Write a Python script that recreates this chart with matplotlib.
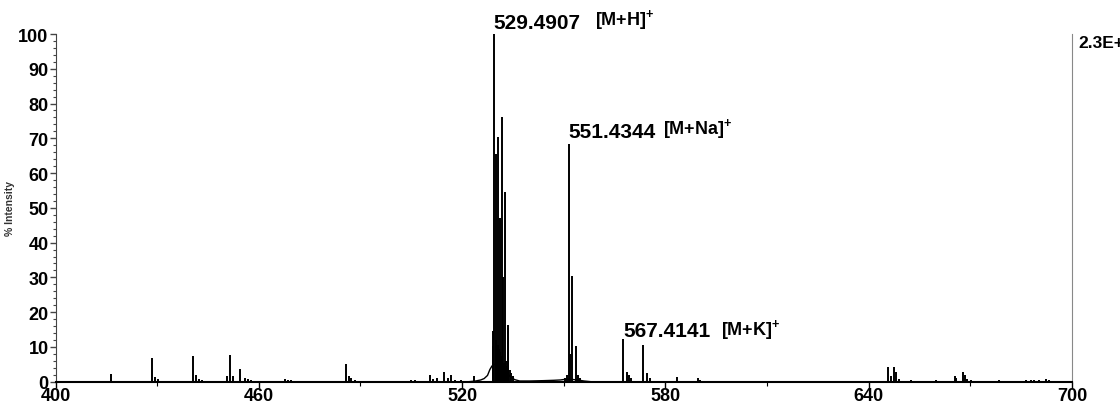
import numpy as np
import matplotlib
matplotlib.use('Agg')
import matplotlib.pyplot as plt
from matplotlib.ticker import MultipleLocator, FixedLocator

plt.rcParams['font.family'] = ['Liberation Sans', 'DejaVu Sans']
plt.rcParams['font.weight'] = 'bold'
plt.rcParams['mathtext.fontset'] = 'custom'
plt.rcParams['mathtext.rm'] = 'Liberation Sans:bold'
plt.rcParams['mathtext.bf'] = 'Liberation Sans:bold'

# пики (m/z, % интенсивности)
mz_low = [409.4, 412.5, 416.3, 428.5, 429.5, 430.3, 440.5, 441.5, 442.4, 443.3,
          450.5, 451.6, 452.4, 454.5, 455.8, 456.8, 457.8, 467.6, 468.6, 469.6,
          479.9, 481.4, 485.6, 486.6, 487.3, 488.3, 496.8, 505.0, 506.0, 510.5,
          511.5, 512.7, 514.6, 515.8, 516.8, 517.8, 519.7, 523.5, 524.7]
int_low = [0.3, 0.3, 2.2, 6.7, 1.3, 0.8, 7.3, 1.8, 0.9, 0.4,
           1.5, 7.6, 1.5, 3.7, 1.0, 0.7, 0.4, 0.9, 0.5, 0.4,
           0.3, 0.3, 5.1, 1.6, 1.0, 0.4, 0.3, 0.4, 0.5, 1.8,
           0.8, 1.0, 2.8, 1.0, 1.8, 0.6, 0.6, 1.6, 0.6]

# основной кластер [M+H]+
mz_main = [529.07, 529.25, 529.5, 529.9, 530.05, 530.34, 530.45, 530.73, 531.03,
           531.15, 531.33, 531.65, 531.85, 532.15, 532.4, 532.6, 532.85, 533.0,
           533.4, 533.65, 534.1, 534.5, 535.0]
int_main = [14.7, 10.3, 100.0, 65.5, 12.0, 8.5, 70.5, 10.5, 9.5,
            47.0, 8.5, 76.0, 7.5, 30.0, 5.5, 54.5, 6.0, 4.5,
            16.2, 15.5, 3.5, 2.5, 1.5]

# горб под кластером и шум у 540-555
hump_mz = [522.0, 524.0, 525.5, 526.5, 527.5, 528.2, 528.8, 529.5, 530.5, 531.5,
           532.5, 533.5, 534.5, 535.5, 537.0, 540.0, 544.0, 547.0, 549.0, 550.5,
           552.0, 554.0, 556.0, 558.0]
hump_int = [0.0, 0.2, 0.5, 0.9, 1.8, 3.5, 4.5, 5.0, 4.8, 4.2,
            3.4, 2.2, 1.2, 0.6, 0.2, 0.2, 0.3, 0.4, 0.5, 0.7,
            0.7, 0.5, 0.2, 0.0]

mz_high = [550.5, 550.9, 551.43, 551.75, 552.5, 553.6, 554.2, 554.8,
           567.41, 568.6, 569.2, 569.7, 573.5, 574.5, 575.5,
           583.4, 584.6, 585.8, 589.5, 590.3, 591.2, 600.0, 605.8, 616.5, 622.5,
           626.4, 633.3, 639.5, 645.8, 646.6, 647.6, 648.2, 648.8, 652.5,
           659.8, 660.8, 665.4, 665.9, 667.7, 668.4, 669.1, 670.1,
           678.4, 682.3, 686.3, 687.8, 688.8, 690.2, 692.2, 693.2, 694.2]
int_high = [1.0, 2.0, 68.5, 8.0, 30.5, 10.4, 2.0, 1.2,
            12.2, 2.7, 2.0, 1.2, 10.6, 2.5, 1.0,
            1.3, 0.3, 0.3, 1.0, 0.4, 0.2, 0.2, 0.2, 0.2, 0.2,
            0.2, 0.2, 0.3, 4.1, 1.5, 4.1, 2.7, 0.8, 0.4,
            0.4, 0.3, 1.7, 1.2, 2.7, 1.8, 0.8, 0.4,
            0.5, 0.3, 0.6, 0.4, 0.5, 0.4, 0.9, 0.4, 0.3]

x_major = [400, 460, 520, 580, 640, 700]
x_minor = [430, 490, 550, 610, 670]

fig = plt.figure(figsize=(11.2, 4.1), dpi=100)
ax = fig.add_axes([55.5 / 1120, 27.3 / 410, (1072 - 55.5) / 1120, (382.7 - 35) / 410])

ax.plot(hump_mz, hump_int, color='black', lw=1.0)
for mz, it in [(mz_low, int_low), (mz_main, int_main), (mz_high, int_high)]:
    ax.vlines(mz, 0, it, color='black', lw=1.4)

ax.set_xlim(400, 700)
ax.set_ylim(0, 100)
ax.xaxis.set_major_locator(FixedLocator(x_major))
ax.xaxis.set_minor_locator(FixedLocator(x_minor))
ax.yaxis.set_major_locator(MultipleLocator(10))
ax.yaxis.set_minor_locator(MultipleLocator(2))

ax.spines['top'].set_visible(False)
ax.spines['right'].set_color('#888888')
ax.spines['left'].set_color('#444444')
ax.spines['bottom'].set_color('black')
ax.spines['bottom'].set_linewidth(1.5)

ax.tick_params(axis='y', which='major', length=4, width=1, pad=1, labelsize=13, colors='#444444', labelcolor='black')
ax.tick_params(axis='y', which='minor', length=2, width=0.8, colors='#444444')
ax.tick_params(axis='x', which='major', length=4, width=1, pad=0, labelsize=13)
ax.tick_params(axis='x', which='minor', length=3, width=0.8)
for lab in ax.get_xticklabels() + ax.get_yticklabels():
    lab.set_fontweight('bold')

ax.set_ylabel('% Intensity', fontsize=7.5, fontweight='bold', color='#333333')
ax.yaxis.set_label_coords(-0.04, 0.5)

# подписи пиков
ax.text(529.3, 101.6, '529.4907', fontsize=15, fontweight='bold', va='baseline', ha='left')
ax.text(559.1, 102.9, r'[M+H]$^\mathbf{+}$', fontsize=13, fontweight='bold', va='baseline', ha='left')
ax.text(551.5, 70.3, '551.4344', fontsize=15, fontweight='bold', va='baseline', ha='left')
ax.text(579.2, 71.5, r'[M+Na]$^\mathbf{+}$', fontsize=13, fontweight='bold', va='baseline', ha='left')
ax.text(567.7, 13.0, '567.4141', fontsize=15, fontweight='bold', va='baseline', ha='left')
ax.text(596.4, 13.8, r'[M+K]$^\mathbf{+}$', fontsize=13, fontweight='bold', va='baseline', ha='left')

fig.text(1078 / 1120, 1 - 36 / 410, '2.3E+4', fontsize=12.5, fontweight='bold', va='top', ha='left')

fig.savefig('out.png', dpi=100)
